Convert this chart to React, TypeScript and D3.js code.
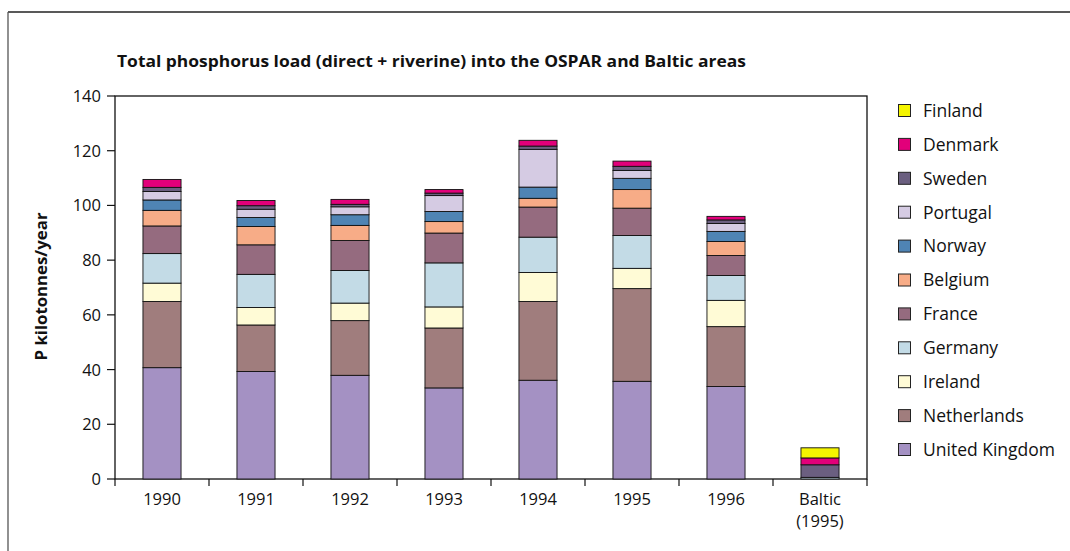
import React from "react";
import * as d3 from "d3";

const categories = ["1990", "1991", "1992", "1993", "1994", "1995", "1996", "Baltic (1995)"];
const countries = ["United Kingdom", "Netherlands", "Ireland", "Germany", "France", "Belgium", "Norway", "Portugal", "Sweden", "Denmark", "Finland"];
const colors = ["#a491c3", "#a07d7d", "#fffbd6", "#c3dbe6", "#956b7f", "#f7ac87", "#4f84b4", "#d5cbe3", "#6b5f80", "#e2007a", "#f5f500"];

const unitedKingdom = [40.7, 39.3, 37.9, 33.3, 36.1, 35.7, 33.8, 0];
const netherlands = [24.2, 17.0, 20.0, 21.9, 28.8, 33.9, 21.9, 0];
const ireland = [6.7, 6.4, 6.4, 7.7, 10.6, 7.4, 9.6, 0];
const germany = [10.8, 12.1, 11.9, 16.1, 12.9, 12.0, 9.1, 0.6];
const france = [10.1, 10.8, 11.0, 10.9, 11.0, 10.0, 7.3, 0];
const belgium = [5.7, 6.7, 5.5, 4.2, 3.2, 6.8, 5.1, 0];
const norway = [3.8, 3.3, 3.9, 3.7, 4.1, 4.1, 3.7, 0];
const portugal = [3.1, 3.0, 2.9, 5.8, 13.8, 2.9, 2.9, 0];
const sweden = [1.5, 1.3, 0.9, 0.9, 1.2, 1.5, 1.3, 4.6];
const denmark = [2.9, 1.9, 1.8, 1.3, 2.1, 1.9, 1.3, 2.5];
const finland = [0, 0, 0, 0, 0, 0, 0, 3.7];

const yTicks = [0, 20, 40, 60, 80, 100, 120, 140];

const series = [unitedKingdom, netherlands, ireland, germany, france, belgium, norway, portugal, sweden, denmark, finland];

export default function App() {
  const W = 1070, H = 551;
  const left = 115, right = 867, top = 96, bottom = 479;
  const x = d3.scaleBand<string>().domain(categories).range([left, right]).paddingInner(0.595).paddingOuter(0.2975);
  const y = d3.scaleLinear().domain([0, 140]).range([bottom, top]);
  const rows = categories.map((c, i) => {
    const r: any = { cat: c };
    countries.forEach((k, j) => (r[k] = series[j][i]));
    return r;
  });
  const stacked = d3.stack<any>().keys(countries)(rows);
  const band = (right - left) / categories.length;
  const font = "'Open Sans', sans-serif";

  return (
    <svg width={W} height={H} style={{ position: "absolute", left: 0, top: 0, background: "#fff" }} fontFamily={font}>
      <rect x={0} y={0} width={W} height={H} fill="#fff" />
      <line x1={8} y1={12} x2={W} y2={12} stroke="#222" strokeWidth={1.3} />
      <line x1={8} y1={12} x2={8} y2={H} stroke="#555" strokeWidth={1.3} />
      <text x={117} y={67} fontSize={16} fontWeight="bold" fill="#111" textLength={629} lengthAdjust="spacingAndGlyphs">
        Total phosphorus load (direct + riverine) into the OSPAR and Baltic areas
      </text>
      <rect x={left} y={top} width={right - left} height={bottom - top} fill="none" stroke="#111" strokeWidth={1.3} />
      {yTicks.map((t) => (
        <g key={t}>
          <line x1={left - 8} x2={left} y1={y(t)} y2={y(t)} stroke="#111" strokeWidth={1.2} />
          <text x={101} y={y(t)} dy="0.36em" textAnchor="end" fontSize={16.5} fill="#111">
            {t}
          </text>
        </g>
      ))}
      {categories.map((c, i) => (
        <line key={c} x1={left + band * (i + 1)} x2={left + band * (i + 1)} y1={bottom} y2={bottom + 7} stroke="#111" strokeWidth={1.2} />
      ))}
      <line x1={left} x2={left} y1={bottom} y2={bottom + 7} stroke="#111" strokeWidth={1.2} />
      {categories.map((c) => {
        const cx = (x(c) as number) + x.bandwidth() / 2;
        const parts = c.split(" ");
        return (
          <text key={c} x={cx} y={505} textAnchor="middle" fontSize={16.5} fill="#111">
            {parts.map((p, k) => (
              <tspan key={k} x={cx} dy={k === 0 ? 0 : 22}>
                {p}
              </tspan>
            ))}
          </text>
        );
      })}
      {stacked.map((s, j) =>
        s.map((d, i) =>
          d[1] - d[0] > 0 ? (
            <rect
              key={`${j}-${i}`}
              x={x(categories[i]) as number}
              y={y(d[1])}
              width={x.bandwidth()}
              height={y(d[0]) - y(d[1])}
              fill={colors[j]}
              stroke="#111"
              strokeWidth={0.9}
            />
          ) : null
        )
      )}
      <text transform={`translate(47,${(top + bottom) / 2 - 1}) rotate(-90)`} textAnchor="middle" fontSize={16.5} fontWeight="bold" fill="#111" textLength={148} lengthAdjust="spacingAndGlyphs">
        P kilotonnes/year
      </text>
      {countries
        .slice()
        .reverse()
        .map((k, i) => {
          const idx = countries.indexOf(k);
          const cy = 110.5 + i * 33.9;
          return (
            <g key={k}>
              <rect x={898.5} y={cy - 6} width={12} height={12} fill={colors[idx]} stroke="#222" strokeWidth={1} />
              <text x={923} y={cy} dy="0.36em" fontSize={17.5} fill="#111">
                {k}
              </text>
            </g>
          );
        })}
    </svg>
  );
}
